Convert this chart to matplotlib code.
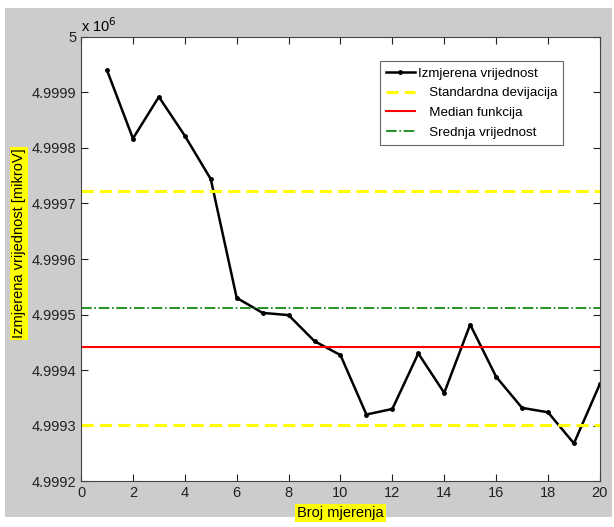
import matplotlib
matplotlib.use("Agg")
import matplotlib.pyplot as plt
from matplotlib.ticker import FuncFormatter
from matplotlib.patches import Rectangle

plt.rcParams['font.family'] = ['Liberation Sans', 'DejaVu Sans']

# mjerenja (mikroV)
broj = list(range(1, 21))
izmjereno = [4999940, 4999817, 4999892, 4999822, 4999744, 4999530, 4999503, 4999499,
             4999452, 4999427, 4999320, 4999330, 4999430, 4999359, 4999482, 4999388,
             4999332, 4999324, 4999268, 4999375]
std_gore = 4999722
std_dolje = 4999301
median = 4999441
srednja = 4999512

fig = plt.figure(figsize=(6.14, 5.27), dpi=100, facecolor='white')
# sivi okvir kao u MATLAB prozoru
fig.patches.append(Rectangle((5 / 614, 10 / 527), 607 / 614, 509 / 527,
                             transform=fig.transFigure, facecolor='#cccccc',
                             edgecolor='none', zorder=-10))
ax = fig.add_axes([0.132, 0.087, 0.845, 0.843])

ax.plot(broj, izmjereno, color='black', lw=1.8, marker='.', ms=5, label='Izmjerena vrijednost')
ax.axhline(std_gore, color='#ffff00', ls=(0, (4, 2)), lw=2.2, label='   Standardna devijacija')
ax.axhline(std_dolje, color='#ffff00', ls=(0, (4, 2)), lw=2.2)
ax.axhline(median, color='#ff0000', lw=1.5, label='   Median funkcija')
ax.axhline(srednja, color='#008000', ls='-.', lw=1.2, label='   Srednja vrijednost')

ax.set_xlim(0, 20)
ax.set_ylim(4999200, 5000000)
ax.set_xticks(range(0, 21, 2))
ax.set_yticks([4999200 + 100 * i for i in range(9)])

def fmt(v, pos):
    s = '%.4f' % (v / 1e6)
    return s.rstrip('0').rstrip('.')
ax.yaxis.set_major_formatter(FuncFormatter(fmt))

ax.tick_params(direction='in', top=True, right=True, labelsize=10.5, colors='#222222', length=5)
for sp in ax.spines.values():
    sp.set_color('#444444')
ax.text(0.0, 1.005, r'x 10$^6$', transform=ax.transAxes, fontsize=10.5, ha='left', va='bottom')

zuto = dict(facecolor='#ffff00', edgecolor='none', pad=1.5)
ax.set_xlabel('Broj mjerenja', fontsize=10.5, bbox=zuto, labelpad=4)
ax.set_ylabel('Izmjerena vrijednost [mikroV]', fontsize=10.5, bbox=zuto)
ax.yaxis.set_label_coords(-0.106, 0.535)

leg = ax.legend(loc='upper left', bbox_to_anchor=(0.563, 0.96), fontsize=9.6, fancybox=False,
                framealpha=1, edgecolor='#666666', handlelength=2.2, handletextpad=0.2,
                labelspacing=0.55, borderpad=0.45)
leg.get_frame().set_linewidth(0.8)

fig.savefig('out.png', dpi=100, facecolor=fig.get_facecolor())
